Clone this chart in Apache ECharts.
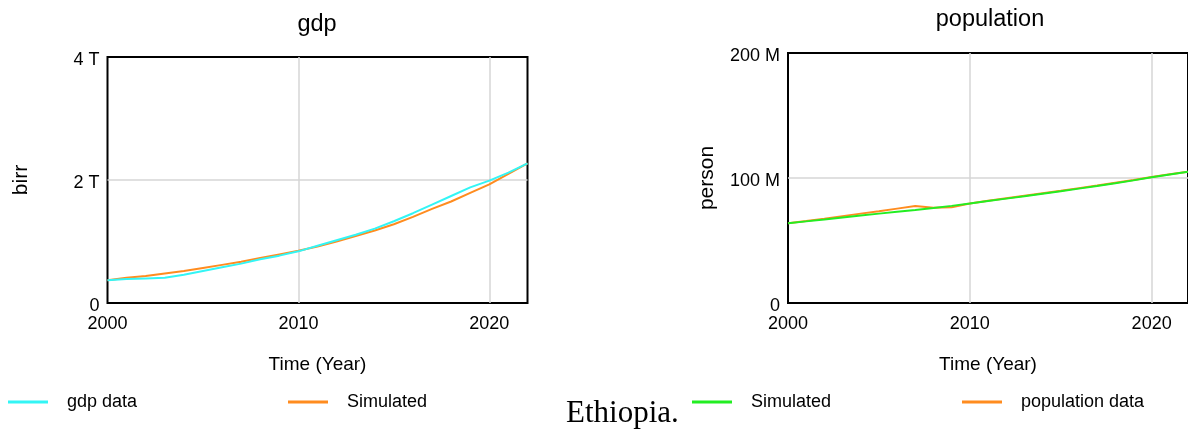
<!DOCTYPE html>
<html><head><meta charset="utf-8">
<script src="https://cdn.jsdelivr.net/npm/echarts@6/dist/echarts.min.js"></script>
<style>html,body{margin:0;padding:0;background:#fff}#c{width:1188px;height:432px}</style>
</head><body><div id="c"></div>
<script>
const years = [2000,2001,2002,2003,2004,2005,2006,2007,2008,2009,2010,2011,2012,2013,2014,2015,2016,2017,2018,2019,2020,2021,2022];
// gdp in trillion birr
const gdpData      = [0.37,0.39,0.40,0.41,0.46,0.52,0.58,0.64,0.71,0.77,0.84,0.93,1.02,1.11,1.21,1.33,1.46,1.60,1.74,1.88,1.99,2.12,2.27];
const gdpSimulated = [0.37,0.41,0.44,0.48,0.52,0.57,0.62,0.67,0.73,0.79,0.85,0.92,1.00,1.09,1.18,1.28,1.40,1.53,1.65,1.79,1.93,2.10,2.27];
// population in million persons
const popSimulated = [63.8,65.3,66.8,68.4,70.0,71.5,73.0,74.4,76.0,77.7,79.6,81.6,83.5,85.4,87.4,89.4,91.5,93.6,95.8,98.1,100.6,102.8,105.0];
const popData      = [63.8,65.6,67.5,69.5,71.5,73.4,75.5,77.6,76.2,76.6,79.6,81.8,83.8,85.8,87.8,89.8,91.9,94.0,96.2,98.4,100.8,103.0,105.0];
const xTicks = [2000, 2010, 2020];
const gdpTicks = [0, 2, 4];
const popTicks = [0, 100, 200];

const F = "'Liberation Sans',Arial,sans-serif";
const pairs = arr => years.map((y, i) => [y, arr[i]]);

function xAxisCfg(idx) {
  return {
    gridIndex: idx, type: 'value', min: xTicks[0], max: 2022, interval: xTicks[1] - xTicks[0],
    name: 'Time (Year)', nameLocation: 'middle', nameGap: 52,
    nameTextStyle: {fontFamily: F, fontSize: 19, color: '#000'},
    axisLine: {show: false}, axisTick: {show: false},
    axisLabel: {showMaxLabel: false, showMinLabel: true, margin: 12, fontFamily: F, fontSize: 18, color: '#000',
      formatter: v => xTicks.includes(v) ? String(v) : ''},
    splitLine: {show: true, showMinLine: false, showMaxLine: false, lineStyle: {color: '#d6d6d6', width: 1.5}}
  };
}
function yAxisCfg(idx, ticks, unit, name, gap) {
  return {
    gridIndex: idx, type: 'value', min: ticks[0], max: ticks[ticks.length - 1], interval: ticks[1] - ticks[0],
    name: name, nameLocation: 'middle', nameRotate: 90, nameGap: gap,
    nameTextStyle: {fontFamily: F, fontSize: 21, color: '#000'},
    axisLine: {show: false}, axisTick: {show: false},
    axisLabel: {margin: 8, fontFamily: F, fontSize: 18, color: '#000', verticalAlign: 'top', lineHeight: 7,
      formatter: v => v === 0 ? '0' : v + ' ' + unit},
    splitLine: {show: true, showMinLine: false, showMaxLine: false, lineStyle: {color: '#d6d6d6', width: 1.5}}
  };
}
const legendBase = {
  orient: 'horizontal', top: 393, padding: 0, icon: 'rect', itemWidth: 40, itemHeight: 3,
  textStyle: {fontFamily: F, fontSize: 18, color: '#000', padding: [0, 0, 0, 14]},
  selectedMode: false
};
const chart = echarts.init(document.getElementById('c'));
chart.setOption({
  animation: false,
  backgroundColor: '#fff',
  grid: [
    {left: 107.5, top: 57, width: 420, height: 246, show: true, borderColor: '#000', borderWidth: 2, backgroundColor: 'transparent'},
    {left: 788, top: 53, width: 404, height: 250, show: true, borderColor: '#000', borderWidth: 2, backgroundColor: 'transparent'}
  ],
  xAxis: [xAxisCfg(0), xAxisCfg(1)],
  yAxis: [yAxisCfg(0, gdpTicks, 'T', 'birr', 76), yAxisCfg(1, popTicks, 'M', 'person', 70)],
  legend: [
    Object.assign({}, legendBase, {left: 8, data: ['gdp data']}),
    Object.assign({}, legendBase, {left: 288, data: ['Simulated']}),
    Object.assign({}, legendBase, {left: 692, data: ['Simulated (population)'], formatter: () => 'Simulated'}),
    Object.assign({}, legendBase, {left: 962, data: ['population data']})
  ],
  series: [
    {name: 'Simulated', type: 'line', xAxisIndex: 0, yAxisIndex: 0, data: pairs(gdpSimulated), symbol: 'none',
      color: '#ff8c1f', lineStyle: {width: 2, color: '#ff8c1f'}},
    {name: 'gdp data', type: 'line', xAxisIndex: 0, yAxisIndex: 0, data: pairs(gdpData), symbol: 'none',
      color: '#33f5f5', lineStyle: {width: 2, color: '#33f5f5'}},
    {name: 'population data', type: 'line', xAxisIndex: 1, yAxisIndex: 1, data: pairs(popData), symbol: 'none',
      color: '#ff8c1f', lineStyle: {width: 2, color: '#ff8c1f'}},
    {name: 'Simulated (population)', type: 'line', xAxisIndex: 1, yAxisIndex: 1, data: pairs(popSimulated), symbol: 'none',
      color: '#22ee22', lineStyle: {width: 2, color: '#22ee22'}}
  ],
  graphic: [
    {type: 'text', x: 317, y: 25, style: {text: 'gdp', font: "23.5px " + F, fill: '#000', textAlign: 'center', textVerticalAlign: 'middle'}},
    {type: 'text', x: 990, y: 20, style: {text: 'population', font: "23.5px " + F, fill: '#000', textAlign: 'center', textVerticalAlign: 'middle'}},
    {type: 'text', x: 566, y: 413.5, style: {text: 'Ethiopia.', font: "31px 'Liberation Serif','Times New Roman',serif", fill: '#000', textAlign: 'left', textVerticalAlign: 'middle'}}
  ]
});
</script></body></html>
